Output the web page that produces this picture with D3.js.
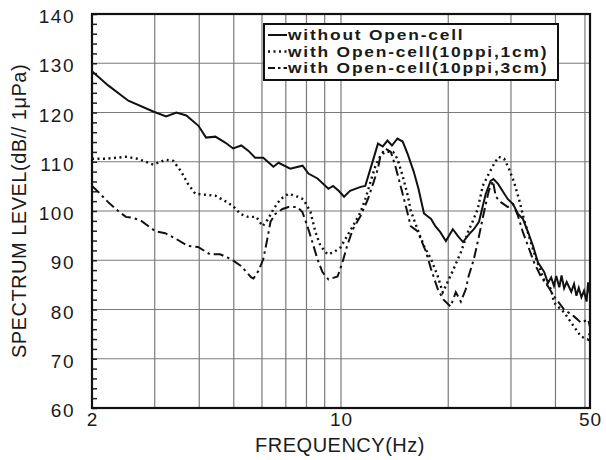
<!DOCTYPE html>
<html>
<head>
<meta charset="utf-8">
<script src="https://cdn.jsdelivr.net/npm/d3@7"></script>
<style>
  body { margin: 0; background: #fff; }
  text { font-family: "Liberation Sans", Arial, Helvetica, sans-serif; fill: #1a1a1a; }
</style>
</head>
<body>
<div id="chart"></div>
<script>
// Data (frequency in Hz, level in dB)
const freqPlain = [2.0, 2.22, 2.53, 2.97, 3.23, 3.45, 3.68, 3.98, 4.18, 4.44, 4.73, 4.98, 5.25, 5.5, 5.74, 6.05, 6.46, 6.68, 7.2, 7.8, 8.1, 8.59, 9.22, 9.5, 9.85, 10.2, 10.6, 11.35, 11.7, 12.1, 12.5, 12.7, 13.1, 13.5, 13.9, 14.4, 14.9, 15.4, 16.0, 16.5, 17.1, 17.9, 18.4, 19.0, 19.7, 20.6, 21.3, 22.0, 22.9, 23.6, 24.4, 25.0, 25.5, 26.3, 26.8, 27.6, 28.5, 29.4, 30.4, 31.4, 32.4, 33.5, 34.6, 35.7, 37.2, 38.1, 38.9, 39.6, 40.2, 41.0, 41.6, 42.3, 43.0, 44.3, 45.1, 45.8, 46.5, 47.3, 48.1, 48.9, 49.4, 50];
const levelPlain = [128.4, 125.5, 122.4, 120.2, 119.2, 120, 119.4, 117.3, 114.9, 115.1, 113.9, 112.7, 113.3, 112.2, 110.8, 110.8, 109, 109.8, 108.6, 109.2, 107.6, 106.6, 104.5, 105.1, 104.1, 102.9, 104.1, 104.9, 105.1, 108.6, 112, 113.7, 113.1, 114.3, 113.3, 114.7, 114.1, 111.5, 108, 104.5, 99.5, 98.4, 96.9, 95.7, 93.9, 96.3, 94.9, 93.7, 95.3, 96.3, 97.8, 101, 103.5, 106.1, 106.5, 105.5, 103.9, 102.4, 101.4, 99.4, 98.4, 95.7, 92.9, 89.6, 87.6, 85.4, 86.5, 84.8, 86.8, 84.5, 86.9, 84.3, 85.6, 83.6, 85.2, 82.8, 84.4, 82.5, 83.8, 81.6, 85.5, 83];

const freq1cm = [2.0, 2.18, 2.49, 2.69, 2.97, 3.21, 3.38, 3.56, 3.72, 3.9, 4.16, 4.44, 4.73, 4.98, 5.22, 5.49, 5.79, 6.02, 6.25, 6.46, 6.76, 7.12, 7.55, 7.84, 8.21, 8.48, 8.76, 9.16, 9.53, 9.97, 10.4, 10.8, 11.35, 11.7, 12.1, 12.5, 12.9, 13.3, 14.0, 14.4, 14.9, 15.4, 15.7, 16.4, 17.1, 17.9, 18.7, 19.3, 19.9, 20.7, 21.7, 22.7, 23.4, 24.2, 25.0, 25.8, 26.9, 27.7, 28.7, 29.6, 30.6, 31.6, 32.6, 33.7, 34.8, 35.9, 37.1, 38.9, 39.6, 42.3, 45.1, 47.2, 49.4, 50];
const level1cm = [110.6, 110.6, 111, 110.6, 109.4, 110.4, 110.2, 108, 105.5, 103.5, 103.3, 103.1, 102, 101, 99.4, 98.8, 98.8, 96.9, 98.4, 100.4, 102.4, 103.5, 102.9, 102.4, 99.8, 95.7, 92.9, 91.2, 91.6, 92.6, 94.9, 96.9, 99.8, 102.4, 105.9, 109.2, 111.2, 112, 112, 110.6, 107.1, 103.1, 100, 96.3, 92.9, 90.2, 86.7, 83.5, 85.5, 88.2, 91.6, 95.7, 97.8, 100.4, 105.1, 107.1, 109.6, 111, 110.6, 108.6, 105.9, 102.4, 98.4, 94.9, 91.6, 88.8, 86.1, 84.1, 81.4, 79.4, 76.5, 74.5, 73.9, 75.3];

const freq3cm = [2.0, 2.08, 2.22, 2.37, 2.49, 2.61, 2.75, 3.01, 3.21, 3.45, 3.72, 3.97, 4.29, 4.58, 4.92, 5.25, 5.6, 5.68, 5.86, 6.05, 6.21, 6.34, 6.54, 6.85, 7.12, 7.55, 7.79, 8.05, 8.31, 8.59, 8.87, 9.22, 9.78, 10.1, 10.4, 10.8, 11.35, 11.9, 12.3, 12.7, 12.9, 13.3, 13.8, 14.2, 14.7, 15.2, 15.7, 16.4, 16.7, 17.3, 17.9, 18.7, 19.4, 20.3, 21.0, 21.7, 22.4, 22.8, 23.6, 24.4, 25.2, 26.0, 26.7, 27.2, 28.1, 29.4, 30.4, 31.4, 32.4, 33.5, 34.8, 36.4, 38.1, 39.6, 42.3, 45.1, 47.2, 49.4, 50];
const level3cm = [105.1, 103.9, 101.8, 100, 98.8, 98.6, 98, 95.9, 95.5, 94.3, 92.9, 92.7, 91.2, 91.2, 90.2, 88.8, 86.5, 86.3, 87.8, 90.2, 94.3, 97.8, 99.4, 100.4, 100.8, 100.8, 99.8, 96.9, 93.7, 90.2, 87.6, 86.1, 86.7, 89.6, 92.9, 96.3, 99, 102.4, 105.5, 108.6, 111.2, 112.7, 112, 109.2, 105.1, 101, 96.9, 95.9, 94.5, 91.8, 88.2, 84.1, 82, 80.6, 83.5, 81.6, 84.1, 86.7, 90.2, 94.9, 99.8, 104.1, 106.1, 102.9, 101.8, 100.8, 101.4, 99, 95.7, 92.9, 89.6, 86.7, 84.7, 82.7, 80, 78.6, 77.3, 78, 76.5];

const seriesNames = ["without Open-cell", "with Open-cell(10ppi,1cm)", "with Open-cell(10ppi,3cm)"];
const xTickValues = [2, 10, 50];
const xGridValues = [3, 4, 5, 6, 7, 8, 9, 10, 20, 30, 40, 48.4];
const yTickValues = [60, 70, 80, 90, 100, 110, 120, 130, 140];
const yMinorValues = d3.range(60, 141, 2);

// Setup layout
const svgWidth = 606;
const svgHeight = 460;
const margin = { top: 14, right: 16, bottom: 52, left: 92 };
const width = svgWidth - margin.left - margin.right;
const height = svgHeight - margin.top - margin.bottom;

const svg = d3.select("#chart")
  .append("svg")
  .attr("width", svgWidth)
  .attr("height", svgHeight);

const chartGroup = svg.append("g")
  .attr("transform", `translate(${margin.left}, ${margin.top})`);

const x = d3.scaleLog().domain([2, 50]).range([0, width]);
const y = d3.scaleLinear().domain([60, 140]).range([height, 0]);

// grid lines
chartGroup.append("g")
  .selectAll("line.vgrid")
  .data(xGridValues)
  .enter()
  .append("line")
  .attr("x1", d => x(d)).attr("x2", d => x(d))
  .attr("y1", 0).attr("y2", height)
  .attr("stroke", "#7a7a7a")
  .attr("stroke-width", 1.2);

chartGroup.append("g")
  .selectAll("line.hgrid")
  .data(yTickValues.slice(1, -1))
  .enter()
  .append("line")
  .attr("x1", 0).attr("x2", width)
  .attr("y1", d => y(d)).attr("y2", d => y(d))
  .attr("stroke", "#7a7a7a")
  .attr("stroke-width", 1.2);

// y axis: inner minor ticks + labels
const leftAxis = d3.axisRight(y)
  .tickValues(yMinorValues)
  .tickSize(5)
  .tickFormat("");
chartGroup.append("g")
  .call(leftAxis)
  .call(g => g.select(".domain").remove())
  .call(g => g.selectAll("line").attr("stroke", "#222").attr("stroke-width", 1.5));

const yLabels = d3.axisLeft(y)
  .tickValues(yTickValues)
  .tickSize(0)
  .tickPadding(17);
chartGroup.append("g")
  .call(yLabels)
  .call(g => g.select(".domain").remove())
  .call(g => g.selectAll("text")
    .attr("dy", "0.45em")
    .style("font-size", "19px")
    .style("letter-spacing", "1.5px")
    .attr("fill", "#1a1a1a"));

// x axis labels
const bottomAxis = d3.axisBottom(x)
  .tickValues(xTickValues)
  .tickSize(0)
  .tickPadding(5)
  .tickFormat(d3.format("d"));
chartGroup.append("g")
  .attr("transform", `translate(0, ${height})`)
  .call(bottomAxis)
  .call(g => g.select(".domain").remove())
  .call(g => g.selectAll("text")
    .style("font-size", "19px")
    .style("letter-spacing", "1px")
    .attr("fill", "#1a1a1a"));

// curves
const line = d3.line()
  .x(d => x(d[0]))
  .y(d => y(d[1]));

const curves = [
  { f: freqPlain, v: levelPlain, dash: null, w: 2 },
  { f: freq1cm, v: level1cm, dash: "2,3.5", w: 2.4 },
  { f: freq3cm, v: level3cm, dash: "10,4,2.5,4", w: 2 }
];

curves.forEach(c => {
  chartGroup.append("path")
    .datum(d3.zip(c.f, c.v))
    .attr("d", line)
    .attr("fill", "none")
    .attr("stroke", "#111")
    .attr("stroke-width", c.w)
    .attr("stroke-dasharray", c.dash);
});

// frame
chartGroup.append("rect")
  .attr("width", width)
  .attr("height", height)
  .attr("fill", "none")
  .attr("stroke", "#111")
  .attr("stroke-width", 2.2);

// legend
const legend = svg.append("g").attr("transform", "translate(264, 24)");
legend.append("rect")
  .attr("width", 294)
  .attr("height", 56)
  .attr("fill", "#fff")
  .attr("stroke", "#111")
  .attr("stroke-width", 2);

seriesNames.forEach((name, i) => {
  const ly = 11 + i * 16.5;
  legend.append("line")
    .attr("x1", 4).attr("x2", 23)
    .attr("y1", ly).attr("y2", ly)
    .attr("stroke", "#111")
    .attr("stroke-width", curves[i].w)
    .attr("stroke-dasharray", i === 2 ? "7,3,2.5,3" : curves[i].dash);
  // glyphs in the scan are wide, so stretch horizontally
  legend.append("text")
    .attr("transform", `translate(24, ${ly}) scale(1.2, 1)`)
    .attr("dy", "0.36em")
    .style("font-size", "14.5px")
    .style("font-weight", "bold")
    .style("letter-spacing", "1.5px")
    .text(name);
});

// axis titles
svg.append("text")
  .attr("x", 340)
  .attr("y", 452)
  .attr("text-anchor", "middle")
  .style("font-size", "20px")
  .style("letter-spacing", "0.5px")
  .text("FREQUENCY(Hz)");

svg.append("text")
  .attr("transform", "translate(26, 211) rotate(-90)")
  .attr("text-anchor", "middle")
  .style("font-size", "20px")
  .style("letter-spacing", "0.5px")
  .text("SPECTRUM  LEVEL(dB// 1μPa)");
</script>
</body>
</html>
